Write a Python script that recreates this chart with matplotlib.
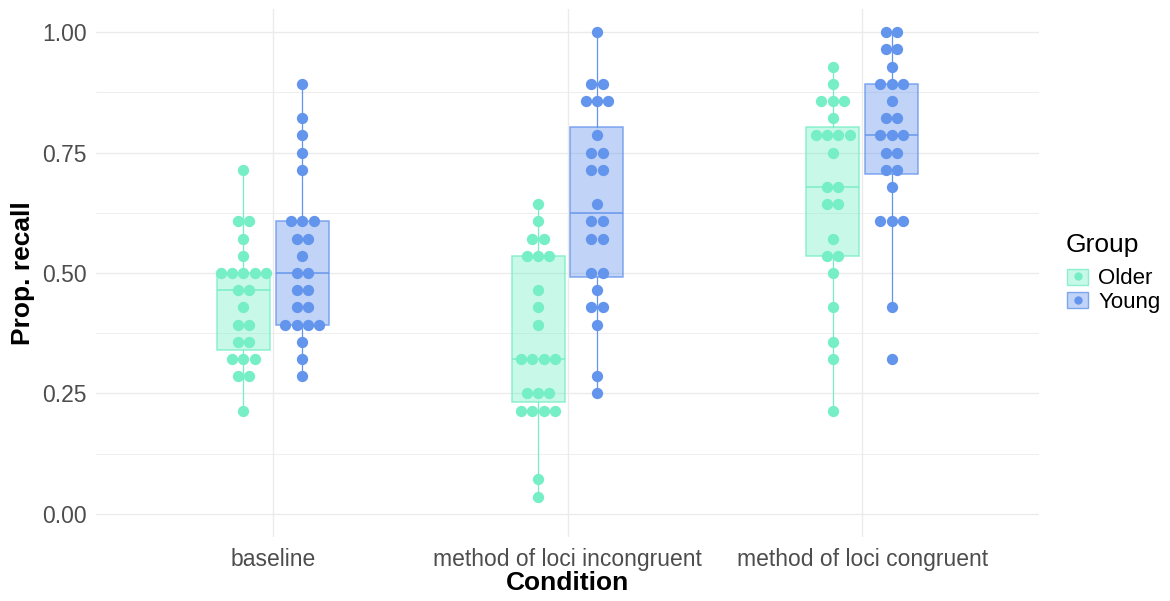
import numpy as np
import matplotlib
matplotlib.use("Agg")
import matplotlib.pyplot as plt
from matplotlib.patches import Patch
from matplotlib.lines import Line2D
from matplotlib.legend_handler import HandlerTuple

plt.rcParams['font.family'] = ['Liberation Sans', 'DejaVu Sans']

# items recalled out of 28, per participant
n_items = 28
conditions = ["baseline", "method of loci incongruent", "method of loci congruent"]
groups = ["Older", "Young"]
colors = {"Older": "#76EEC6", "Young": "#6495ED"}

baseline_older = [20, 17, 17, 16, 15, 14, 14, 14, 14, 14, 13, 13, 12, 11, 11, 10, 10, 9, 9, 9, 8, 8, 6]
baseline_young = [25, 23, 22, 21, 20, 17, 17, 17, 16, 16, 15, 14, 14, 13, 13, 12, 12, 11, 11, 11, 11, 10, 9, 8]
incong_older = [18, 17, 16, 16, 15, 15, 15, 13, 12, 11, 9, 9, 9, 9, 7, 7, 7, 6, 6, 6, 6, 2, 1]
incong_young = [28, 25, 25, 24, 24, 24, 22, 21, 21, 20, 20, 18, 17, 17, 16, 16, 14, 14, 13, 12, 12, 11, 8, 7]
cong_older = [26, 25, 24, 24, 24, 23, 22, 22, 22, 22, 21, 19, 19, 18, 18, 16, 15, 15, 14, 12, 10, 9, 6]
cong_young = [28, 28, 27, 27, 26, 25, 25, 25, 24, 23, 23, 22, 22, 22, 21, 21, 20, 20, 19, 17, 17, 17, 12, 9]

scores = {
    ("baseline", "Older"): baseline_older,
    ("baseline", "Young"): baseline_young,
    ("method of loci incongruent", "Older"): incong_older,
    ("method of loci incongruent", "Young"): incong_young,
    ("method of loci congruent", "Older"): cong_older,
    ("method of loci congruent", "Young"): cong_young,
}

W, H = 1170, 601
fig = plt.figure(figsize=(W / 100, H / 100), dpi=100)
ax_l, ax_r, ax_t, ax_b = 96, 1039, 9, 537
ax = fig.add_axes([ax_l / W, 1 - ax_b / H, (ax_r - ax_l) / W, (ax_b - ax_t) / H])

xlim = (-0.6, 2.6)
ax.set_xlim(*xlim)
ax.set_ylim(-0.048, 1.048)

dodge = 0.1
box_w = 0.18
dot_px = 11.3
px_per_unit = (ax_r - ax_l) / (xlim[1] - xlim[0])
dot_dx = dot_px / px_per_unit
ms = dot_px * 72 / 100

for i, cond in enumerate(conditions):
    for g, grp in enumerate(groups):
        vals = np.array(scores[(cond, grp)]) / n_items
        xc = i + (dodge if grp == "Young" else -dodge)
        c = colors[grp]
        ax.boxplot(vals, positions=[xc], widths=box_w, patch_artist=True,
                   showfliers=False, showcaps=False, whis=1.5,
                   boxprops=dict(facecolor=matplotlib.colors.to_rgba(c, 0.4),
                                 edgecolor=matplotlib.colors.to_rgba(c, 0.8), linewidth=1.1),
                   medianprops=dict(color=matplotlib.colors.to_rgba(c, 0.8), linewidth=1.3),
                   whiskerprops=dict(color=c, linewidth=0.9),
                   zorder=2, manage_ticks=False)
        # centred dot stacks, one stack per score value
        ks, counts = np.unique(scores[(cond, grp)], return_counts=True)
        xs, ys = [], []
        for k, n in zip(ks, counts):
            for j in range(n):
                xs.append(xc + (j - (n - 1) / 2) * dot_dx)
                ys.append(k / n_items)
        ax.plot(xs, ys, 'o', color=c, markersize=ms, markeredgewidth=0, zorder=3)

# theme_minimal look
for s in ax.spines.values():
    s.set_visible(False)
ax.set_xticks(range(len(conditions)))
ax.set_xticklabels(conditions)
ax.set_yticks([0, 0.25, 0.5, 0.75, 1.0])
ax.set_yticklabels(["0.00", "0.25", "0.50", "0.75", "1.00"])
ax.set_yticks([0.125, 0.375, 0.625, 0.875], minor=True)
ax.tick_params(axis='both', which='both', length=0, labelsize=16.5, labelcolor='#4D4D4D')
ax.tick_params(axis='x', pad=8)
ax.tick_params(axis='y', pad=6.5)
ax.grid(True, which='major', color='#EBEBEB', linewidth=1.0)
ax.grid(True, which='minor', axis='y', color='#EBEBEB', linewidth=0.6)
ax.set_axisbelow(True)

fig.text(23 / W, 1 - 273 / H, "Prop. recall", rotation=90, ha='center', va='center',
         fontsize=19, fontweight='bold')
fig.text((ax_l + ax_r) / 2 / W, 1 - 583 / H, "Condition", ha='center', va='center',
         fontsize=19, fontweight='bold')

# legend
fig.text(1066 / W, 1 - 245 / H, "Group", ha='left', va='center', fontsize=19)
handles = []
for grp in groups:
    c = colors[grp]
    p = Patch(facecolor=matplotlib.colors.to_rgba(c, 0.4), edgecolor=matplotlib.colors.to_rgba(c, 0.8))
    d = Line2D([], [], marker='o', color=c, markersize=6, markeredgewidth=0, linestyle='none')
    handles.append((p, d))
leg = fig.legend(handles, groups, handler_map={tuple: HandlerTuple(ndivide=1)},
                 loc='center left', bbox_to_anchor=(1067 / W, 1 - 290.5 / H),
                 frameon=False, fontsize=16,
                 handlelength=0.95, handleheight=0.75, handletextpad=0.45,
                 labelspacing=0.1, borderpad=0, borderaxespad=0)

fig.savefig("out.png", dpi=100)
